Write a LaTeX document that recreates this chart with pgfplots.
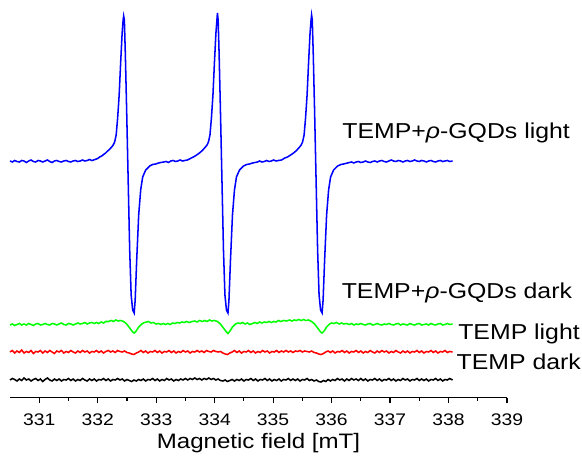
\documentclass[border=0pt]{standalone}
\usepackage{fontspec}
\setmainfont{Liberation Sans}[FakeStretch=1.15]
\usepackage{pgfplots}
\pgfplotsset{compat=1.18}
\begin{document}
\begin{tikzpicture}
\path[use as bounding box] (-7.5pt,-43.725pt) rectangle (429pt,298.275pt);
\begin{axis}[
  at={(0,0)}, anchor=south west,
  scale only axis, width=372.75pt, height=298.275pt,
  xmin=330.5, xmax=339, ymin=-397.7, ymax=0,
  axis x line*=bottom, axis y line=none,
  x axis line style={-, line width=0.9pt},
  xtick={331,...,339}, minor x tick num=1,
  tick align=outside, major tick length=4.3pt, minor tick length=2.4pt,
  tick style={black, line width=0.9pt},
  xticklabel style={font=\fontsize{12.6}{14}\selectfont, yshift=-4pt},
  /pgf/number format/assume math mode=true,
  /pgf/number format/1000 sep={},
  xlabel={Magnetic field [mT]},
  xlabel style={font=\fontsize{15.7}{18}\selectfont, at={(axis description cs:0.5,0)}, anchor=base, yshift=-37.95pt},
  clip=false,
  y filter/.expression={-y},
]
% TEMP+p-GQDs light (blue)
\addplot[blue, line width=1.15pt] table {
330.50 161
330.54 162
330.58 160.5
330.62 161.5
330.66 162
330.70 160.5
330.74 161
330.78 162.5
330.82 161
330.86 160
330.90 161.5
330.94 162
330.98 160.5
331.02 161
331.06 162
331.10 161
331.14 160
331.18 161.5
331.22 162.5
331.26 161
331.30 160.5
331.34 161.5
331.38 162
331.42 161
331.46 160.5
331.50 161.5
331.54 162
331.58 161
331.62 160.5
331.66 161.5
331.70 161
331.74 160
331.78 161
331.82 160.5
331.86 159.5
331.90 160.5
331.93 160
332.00 158.5
332.033 157
332.07 156
332.10 154.5
332.136 153
332.17 151
332.20 149.5
332.239 147
332.265 145
332.290 142
332.316 135
332.341 118
332.367 95
332.393 62
332.418 33
332.435 20
332.444 16
332.456 20
332.473 55
332.495 110
332.521 180
332.547 250
332.572 295
332.598 310
332.624 313
332.641 300
332.667 260
332.701 215
332.735 190
332.769 177
332.821 170
332.889 166
332.94 164.5
332.992 164
333.04 163
333.08 162.5
333.129 162
333.17 161.5
333.21 162.5
333.25 161
333.29 160.5
333.33 161.5
333.37 161
333.41 160
333.45 161
333.49 160.5
333.534 160
333.60 158
333.637 157
333.68 155.5
333.740 153
333.79 150.5
333.843 147
333.87 145
333.894 142
333.920 135
333.945 118
333.971 95
333.997 62
334.022 33
334.039 20
334.048 13
334.060 20
334.077 55
334.099 110
334.125 180
334.151 250
334.176 295
334.202 310
334.228 313
334.245 300
334.271 260
334.305 215
334.339 190
334.373 177
334.425 170
334.493 166
334.55 164.5
334.596 164
334.65 163
334.69 162.5
334.733 162
334.77 161
334.81 162
334.85 161.5
334.89 160.5
334.93 161.5
334.97 161
335.01 160
335.05 161
335.09 160.5
335.144 160
335.20 158
335.247 157
335.30 155
335.350 153
335.40 150.5
335.453 147
335.48 145
335.504 142
335.530 135
335.555 118
335.581 95
335.607 62
335.632 33
335.649 20
335.658 15
335.670 20
335.687 55
335.709 110
335.735 180
335.761 250
335.786 295
335.812 310
335.838 313
335.855 300
335.881 260
335.915 215
335.949 190
335.983 177
336.035 170
336.103 166
336.16 164.5
336.206 164
336.27 163
336.343 162
336.38 163
336.42 162
336.46 161.5
336.50 162.5
336.54 162
336.58 161
336.62 162
336.66 162.5
336.70 161.5
336.74 161
336.78 162
336.82 161
336.86 160.5
336.90 161.5
336.94 162
336.98 161
337.02 160
337.06 161
337.10 161.5
337.14 160.5
337.18 161
337.22 162
337.26 161
337.30 160.5
337.34 161.5
337.38 161
337.42 160
337.46 161
337.50 161.5
337.54 160.5
337.58 161
337.62 162
337.66 161
337.70 160.5
337.74 161.5
337.78 162
337.82 161
337.86 160.5
337.90 161.5
337.94 161
337.98 160.5
338.02 161.5
338.07 161
};
% TEMP light (green)
\addplot[color={rgb,255:red,0;green,255;blue,0}, line width=1.15pt] table {
330.50 325
330.54 324
330.58 325.5
330.62 324.5
330.66 323.5
330.70 325
330.74 324
330.78 325
330.82 323.5
330.86 324.5
330.90 325.5
330.94 324
330.98 323.5
331.02 325
331.06 324.5
331.10 323.5
331.14 324.5
331.18 325
331.22 323.5
331.26 324
331.30 325
331.34 324
331.38 323
331.42 324.5
331.46 325
331.50 323.5
331.54 324
331.58 325
331.62 324
331.66 323
331.70 324
331.74 323.5
331.78 322.5
331.82 324
331.86 323
331.90 322.5
331.94 323.5
331.98 322.5
332.016 323.5
332.06 322
332.10 323
332.14 321.5
332.187 321.5
332.23 320.5
332.27 321.5
332.307 320
332.35 321
332.393 320.5
332.444 321.5
332.495 324
332.547 328
332.598 332
332.624 333
332.658 331
332.701 327
332.752 324
332.80 322.5
332.872 321.5
332.91 323
332.95 322.5
333.00 324
333.044 323.5
333.08 324.5
333.12 323.5
333.16 324.5
333.20 323.5
333.24 324.5
333.28 323
333.32 323.5
333.36 322.5
333.40 323
333.44 322
333.48 322.5
333.52 321.5
333.56 322.5
333.62 321.5
333.66 321
333.70 322
333.74 320.5
333.791 321.5
333.83 320.5
333.87 321.5
333.911 320
333.95 321
333.997 320.5
334.048 321.5
334.099 324
334.151 328
334.202 332
334.228 333.5
334.262 331
334.305 327
334.356 324
334.40 323
334.44 323.5
334.476 322.5
334.52 324
334.56 323
334.60 324.5
334.648 323.5
334.69 322.5
334.73 323.5
334.77 322
334.81 323
334.85 322
334.89 322.5
334.93 321.5
334.97 322.5
335.01 321.5
335.05 322
335.09 320.5
335.13 321.5
335.18 320.5
335.23 321
335.28 320
335.32 321
335.36 320
335.401 320.5
335.44 319.5
335.48 320.5
335.521 319.5
335.56 320.5
335.607 320
335.658 321.5
335.709 324
335.761 328
335.812 332
335.838 333
335.872 331
335.915 327
335.966 324
336.00 323
336.04 323.5
336.086 322.5
336.13 324
336.17 323
336.21 324
336.258 323.5
336.30 324.5
336.34 323.5
336.38 325
336.42 324
336.46 324.5
336.50 323.5
336.54 324.5
336.58 325
336.62 324
336.66 323.5
336.70 325
336.74 324.5
336.78 323.5
336.82 324.5
336.86 325
336.90 324
336.94 324.5
336.98 323.5
337.02 324.5
337.06 325
337.10 324
337.14 323.5
337.18 325
337.22 324
337.26 324.5
337.30 325
337.34 323.5
337.38 324.5
337.42 325
337.46 324
337.50 323.5
337.54 325
337.58 324.5
337.62 324
337.66 325
337.70 323.5
337.74 324.5
337.78 325
337.82 324
337.86 323.5
337.90 325
337.94 324.5
337.98 323.5
338.02 324.5
338.07 324
};
% TEMP dark (red)
\addplot[red, line width=1.15pt] table {
330.50 352
330.54 350.5
330.58 353
330.62 351
330.66 352.5
330.70 350
330.74 353
330.78 351.5
330.82 352.5
330.86 350.5
330.90 353.5
330.94 351.5
330.98 352
331.02 350.5
331.06 353
331.10 351
331.14 352.5
331.18 350.5
331.22 352
331.26 353.5
331.30 351
331.34 352
331.38 350.5
331.42 353
331.46 351.5
331.50 352.5
331.54 350.5
331.58 352
331.62 353
331.66 351
331.70 352.5
331.74 350.5
331.78 352
331.82 351
331.86 353
331.90 351.5
331.94 352
331.98 350.5
332.02 352.5
332.06 351
332.10 353
332.14 351.5
332.18 350.5
332.22 352
332.26 351
332.30 352.5
332.34 350.5
332.38 351.5
332.42 352
332.46 351
332.50 352.5
332.54 353
332.58 354
332.62 354.5
332.66 353
332.70 352
332.74 350.5
332.78 352.5
332.82 351
332.86 353
332.90 351.5
332.94 352
332.98 350.5
333.02 352.5
333.06 351
333.10 353
333.14 351.5
333.18 352
333.22 350.5
333.26 352.5
333.30 351
333.34 353
333.38 351.5
333.42 352.5
333.46 350.5
333.50 352
333.54 351
333.58 353
333.62 351.5
333.66 352
333.70 350.5
333.74 352
333.78 351
333.82 352.5
333.86 350.5
333.90 351.5
333.94 352
333.98 350.5
334.02 351.5
334.06 352
334.10 351.5
334.14 353
334.18 354
334.22 354.5
334.26 353
334.30 352
334.34 350.5
334.38 352.5
334.42 351
334.46 353
334.50 351.5
334.54 352
334.58 350.5
334.62 352.5
334.66 351
334.70 353
334.74 351.5
334.78 352.5
334.82 350.5
334.86 352
334.90 351
334.94 353
334.98 351.5
335.02 352
335.06 350.5
335.10 352.5
335.14 351
335.18 352
335.22 350.5
335.26 352
335.30 351
335.34 352.5
335.38 351
335.42 351.5
335.46 350.5
335.50 352
335.54 351
335.58 351.5
335.62 352
335.66 351
335.70 352.5
335.74 353
335.78 354
335.82 354.5
335.86 353.5
335.90 352
335.94 351
335.98 352.5
336.02 351
336.06 353
336.10 351.5
336.14 352
336.18 350.5
336.22 352.5
336.26 351
336.30 353
336.34 351.5
336.38 352
336.42 350.5
336.46 352.5
336.50 351
336.54 353
336.58 351.5
336.62 352.5
336.66 350.5
336.70 352
336.74 353
336.78 351
336.82 352.5
336.86 350.5
336.90 352
336.94 351
336.98 353
337.02 351.5
337.06 352.5
337.10 350.5
337.14 352
337.18 353
337.22 351
337.26 352.5
337.30 351
337.34 353
337.38 351.5
337.42 352
337.46 350.5
337.50 352.5
337.54 351
337.58 353
337.62 351.5
337.66 352
337.70 350.5
337.74 352.5
337.78 351
337.82 353
337.86 351.5
337.90 352
337.94 350.5
337.98 352.5
338.02 351.5
338.07 352
};
% black trace
\addplot[black, line width=1.15pt] table {
330.50 380
330.54 378.5
330.58 379.5
330.62 381
330.66 379
330.70 380.5
330.74 378
330.78 380
330.82 379
330.86 381
330.90 379.5
330.94 378.5
330.98 380.5
331.02 379
331.06 381.5
331.10 379.5
331.14 378
331.18 380
331.22 381
331.26 379
331.30 380.5
331.34 379
331.38 381
331.42 379.5
331.46 380
331.50 378.5
331.54 380.5
331.58 379
331.62 381
331.66 379.5
331.70 380.5
331.74 378.5
331.78 380
331.82 381
331.86 379
331.90 380.5
331.94 379
331.98 381
332.02 379.5
332.06 380
332.10 378.5
332.14 380.5
332.18 379
332.22 381
332.26 379.5
332.30 380
332.34 378.5
332.38 380
332.42 379
332.46 381
332.50 379.5
332.54 380.5
332.58 381.5
332.62 380
332.66 381
332.70 379.5
332.74 380.5
332.78 379
332.82 381
332.86 379.5
332.90 380
332.94 378.5
332.98 380.5
333.02 379
333.06 381
333.10 379.5
333.14 380.5
333.18 378.5
333.22 380
333.26 379
333.30 381
333.34 379.5
333.38 380.5
333.42 379
333.46 380
333.50 378.5
333.54 380
333.58 378.5
333.62 379.5
333.66 378
333.70 379.5
333.74 378.5
333.78 380
333.82 378.5
333.86 379.5
333.90 378
333.94 379.5
333.98 378.5
334.02 380
334.06 379
334.10 380.5
334.14 381
334.18 380
334.22 381.5
334.26 380.5
334.30 379.5
334.34 381
334.38 379.5
334.42 380.5
334.46 379
334.50 381
334.54 379.5
334.58 380
334.62 378.5
334.66 380.5
334.70 379
334.74 381
334.78 379.5
334.82 380
334.86 378.5
334.90 380.5
334.94 379
334.98 381
335.02 379.5
335.06 380.5
335.10 379
335.14 381
335.18 379.5
335.22 380
335.26 378.5
335.30 380.5
335.34 379
335.38 380.5
335.42 379
335.46 381
335.50 379.5
335.54 380
335.58 378.5
335.62 380.5
335.66 379.5
335.70 381
335.74 380
335.78 381.5
335.82 382
335.86 380.5
335.90 381.5
335.94 379.5
335.98 381
336.02 379.5
336.06 380.5
336.10 378.5
336.14 380
336.18 379
336.22 381
336.26 379
336.30 380.5
336.34 378.5
336.38 380
336.42 379
336.46 380.5
336.50 378.5
336.54 380.5
336.58 379
336.62 381
336.66 379.5
336.70 380
336.74 378.5
336.78 380.5
336.82 379
336.86 381
336.90 379.5
336.94 380
336.98 378.5
337.02 380.5
337.06 379
337.10 381
337.14 379.5
337.18 380.5
337.22 378.5
337.26 380
337.30 379
337.34 381
337.38 379.5
337.42 380
337.46 378.5
337.50 380.5
337.54 379
337.58 380.5
337.62 379
337.66 381
337.70 379.5
337.74 380
337.78 378.5
337.82 380.5
337.86 379
337.90 381
337.94 379.5
337.98 380
338.02 378.5
338.07 380
};
\node[anchor=base west, inner sep=0, font=\fontsize{16.2}{19}\selectfont] at (axis cs:336.18,-138.3) {TEMP+\textit{ρ}-GQDs light};
\node[anchor=base west, inner sep=0, font=\fontsize{16.2}{19}\selectfont] at (axis cs:336.17,-298.5) {TEMP+\textit{ρ}-GQDs dark};
\node[anchor=base west, inner sep=0, font=\fontsize{16.2}{19}\selectfont] at (axis cs:338.163,-339.3) {TEMP light};
\node[anchor=base west, inner sep=0, font=\fontsize{16.2}{19}\selectfont] at (axis cs:338.135,-369.3) {TEMP dark};
\end{axis}
\end{tikzpicture}
\end{document}
